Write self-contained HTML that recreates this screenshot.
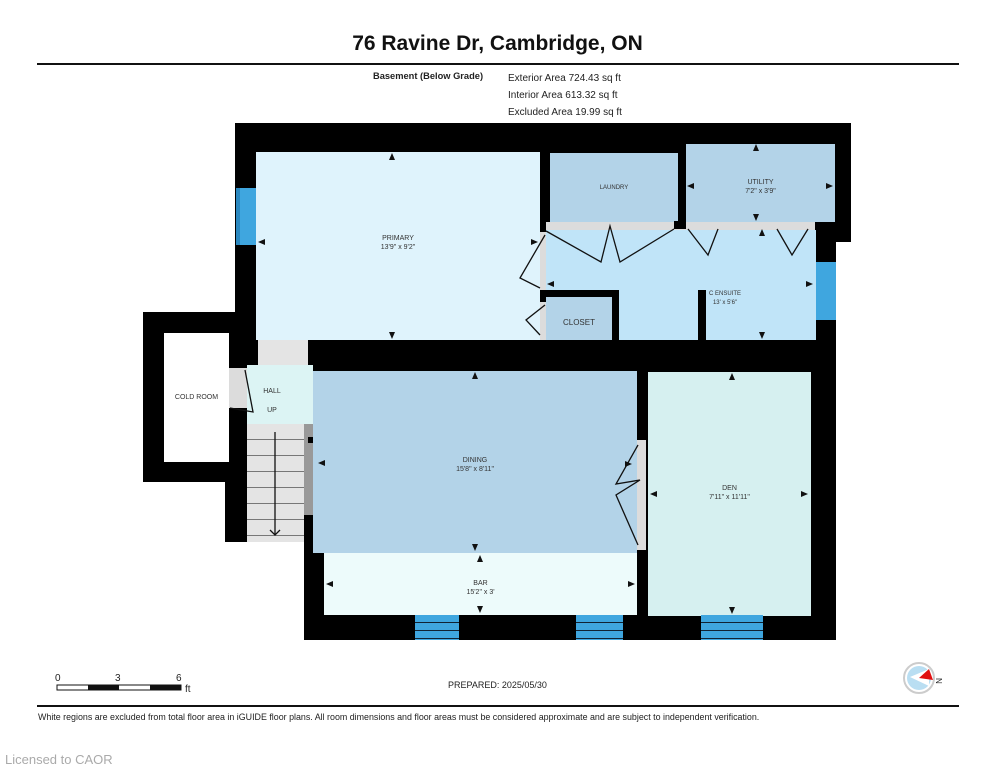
<!DOCTYPE html>
<html><head><meta charset="utf-8"><style>
body{margin:0;width:995px;height:768px;background:#fff;position:relative;overflow:hidden;font-family:"Liberation Sans",sans-serif;}
div{position:absolute;box-sizing:border-box;}
.k{background:#000}
.l{font-size:7px;color:#333;text-align:center;line-height:9px}
.w{background:#3fa6df}
.g{background:#dcdcdc}
</style></head><body>
<div style="left:0;top:32px;width:995px;text-align:center;font-size:21px;font-weight:bold;color:#111">76 Ravine Dr, Cambridge, ON</div>
<div style="left:37px;top:63px;width:922px;height:2px;background:#111"></div>
<div style="left:373px;top:71px;font-size:9.3px;font-weight:bold;color:#222">Basement (Below Grade)</div>
<div style="left:508px;top:70px;font-size:10px;color:#222;line-height:17px">Exterior Area 724.43 sq ft<br>Interior Area 613.32 sq ft<br>Excluded Area 19.99 sq ft</div>

<div class="k" style="left:235px;top:123px;width:601px;height:247px"></div>
<div class="k" style="left:836px;top:123px;width:15px;height:119px"></div>
<div class="k" style="left:304px;top:340px;width:532px;height:300px"></div>
<div class="k" style="left:143px;top:312px;width:115px;height:170px"></div>
<div class="k" style="left:225px;top:365px;width:25px;height:177px"></div>
<div style="left:164px;top:333px;width:65px;height:129px;background:#fff"></div>
<div class="l" style="left:164px;top:393px;width:65px">COLD ROOM</div>

<div style="left:256px;top:152px;width:284px;height:188px;background:#dff3fc"></div>
<div class="l" style="left:256px;top:234px;width:284px">PRIMARY<br>13'9" x 9'2"</div>
<div style="left:550px;top:153px;width:128px;height:69px;background:#b3d3e8"></div>
<div class="l" style="left:550px;top:184px;width:128px;font-size:6px">LAUNDRY</div>
<div style="left:686px;top:144px;width:149px;height:78px;background:#b3d3e8"></div>
<div class="l" style="left:686px;top:178px;width:149px">UTILITY<br>7'2" x 3'9"</div>
<div class="g" style="left:546px;top:222px;width:269px;height:8px"></div>
<div style="left:546px;top:230px;width:270px;height:110px;background:#c0e4f8"></div>
<div class="k" style="left:540px;top:290px;width:78px;height:7px"></div>
<div class="k" style="left:612px;top:290px;width:7px;height:50px"></div>
<div class="k" style="left:698px;top:290px;width:8px;height:50px"></div>
<div style="left:546px;top:297px;width:66px;height:43px;background:#b3d3e8"></div>
<div class="l" style="left:546px;top:318px;width:66px;font-size:8px">CLOSET</div>
<div class="l" style="left:700px;top:290px;width:50px;font-size:6px">C ENSUITE<br>13' x 5'6"</div>
<div class="g" style="left:540px;top:232px;width:6px;height:58px"></div>
<div class="g" style="left:540px;top:302px;width:6px;height:38px"></div>
<div class="k" style="left:674px;top:221px;width:12px;height:8px"></div>
<div class="w" style="left:236px;top:188px;width:20px;height:57px;border-left:4px solid #2a88c0"></div>
<div class="w" style="left:816px;top:262px;width:20px;height:58px"></div>

<div style="left:258px;top:340px;width:50px;height:25px;background:#e4e4e4"></div>
<div style="left:247px;top:365px;width:66px;height:59px;background:#dcf4f4"></div>
<div class="l" style="left:247px;top:382px;width:50px;font-size:7px;line-height:19px">HALL<br>UP</div>
<div class="g" style="left:229px;top:368px;width:18px;height:40px"></div>
<div style="left:247px;top:424px;width:57px;height:118px;background:repeating-linear-gradient(#e4e4e4 0 15px,#777 15px 16px)"></div>
<div style="left:304px;top:424px;width:9px;height:91px;background:#999"></div>
<div class="k" style="left:308px;top:437px;width:5px;height:6px"></div>
<div style="left:313px;top:371px;width:324px;height:182px;background:#b3d3e8"></div>
<div class="l" style="left:313px;top:456px;width:324px">DINING<br>15'8" x 8'11"</div>
<div style="left:324px;top:553px;width:313px;height:62px;background:#edfbfb"></div>
<div class="l" style="left:324px;top:579px;width:313px">BAR<br>15'2" x 3'</div>
<div style="left:648px;top:372px;width:163px;height:244px;background:#d6f0f0"></div>
<div class="l" style="left:648px;top:484px;width:163px">DEN<br>7'11" x 11'11"</div>
<div class="g" style="left:637px;top:440px;width:9px;height:110px"></div>
<div class="w" style="left:415px;top:615px;width:44px;height:25px;background:repeating-linear-gradient(#3fa6df 0 7px,#123 7px 8px)"></div>
<div class="w" style="left:576px;top:615px;width:47px;height:25px;background:repeating-linear-gradient(#3fa6df 0 7px,#123 7px 8px)"></div>
<div class="w" style="left:701px;top:615px;width:62px;height:25px;background:repeating-linear-gradient(#3fa6df 0 7px,#123 7px 8px)"></div>

<svg style="position:absolute;left:0;top:0" width="995" height="768">
<g stroke="#111" stroke-width="1.3" fill="none">
<polyline points="546,231 601,262 610,226 620,262 674,229"/>
<polyline points="688,229 708,255 718,229"/>
<polyline points="777,229 792,255 808,229"/>
<polyline points="545,235 520,278 540,288"/>
<polyline points="545,305 526,320 540,335"/>
<polyline points="245,370 253,412 230,408"/>
<polyline points="638,445 616,484 640,480 616,495 638,545"/>
<line x1="275" y1="432" x2="275" y2="535"/><polyline points="270,530 275,535 280,530"/>
</g>
<g fill="#111">
<path d="M392,153l-3,7h6z"/><path d="M392,339l-3,-7h6z"/>
<path d="M258,242l7,-3v6z"/><path d="M538,242l-7,-3v6z"/>
<path d="M756,144l-3,7h6z"/><path d="M756,221l-3,-7h6z"/><path d="M687,186l7,-3v6z"/><path d="M833,186l-7,-3v6z"/>
<path d="M762,229l-3,7h6z"/><path d="M762,339l-3,-7h6z"/><path d="M547,284l7,-3v6z"/><path d="M813,284l-7,-3v6z"/>
<path d="M475,372l-3,7h6z"/><path d="M475,551l-3,-7h6z"/><path d="M318,463l7,-3v6z"/>
<path d="M480,555l-3,7h6z"/><path d="M480,613l-3,-7h6z"/><path d="M326,584l7,-3v6z"/><path d="M635,584l-7,-3v6z"/>
<path d="M732,373l-3,7h6z"/><path d="M732,614l-3,-7h6z"/><path d="M650,494l7,-3v6z"/><path d="M808,494l-7,-3v6z"/>
<path d="M632,464l-7,-3v6z"/>
</g>
<g font-family="Liberation Sans,sans-serif" font-size="10" fill="#222">
<text x="55" y="681">0</text><text x="115" y="681">3</text><text x="176" y="681">6</text><text x="185" y="692">ft</text>
</g>
<rect x="57" y="685" width="124" height="5" fill="#fff" stroke="#111" stroke-width="1"/>
<rect x="88" y="685" width="31" height="5" fill="#111"/><rect x="150" y="685" width="31" height="5" fill="#111"/>
<circle cx="919" cy="678" r="15" fill="#fff" stroke="#ccc" stroke-width="2"/>
<circle cx="919" cy="678" r="12" fill="#b9def2"/>
<path d="M910,677 L929,669 L929,686 Z" fill="#fff"/>
<path d="M919,678 L929,669 L933,680 Z" fill="#e01010"/>
<text x="936" y="684" font-size="8" font-family="Liberation Sans,sans-serif" fill="#222" transform="rotate(90 939 681)">N</text>
</svg>
<div style="left:0;top:680px;width:995px;text-align:center;font-size:9px;color:#222">PREPARED: 2025/05/30</div>
<div style="left:37px;top:705px;width:922px;height:2px;background:#111"></div>
<div style="left:38px;top:712px;font-size:8.9px;color:#222">White regions are excluded from total floor area in iGUIDE floor plans. All room dimensions and floor areas must be considered approximate and are subject to independent verification.</div>
<div style="left:5px;top:752px;font-size:13px;color:#aaa">Licensed to CAOR</div>
</body></html>
